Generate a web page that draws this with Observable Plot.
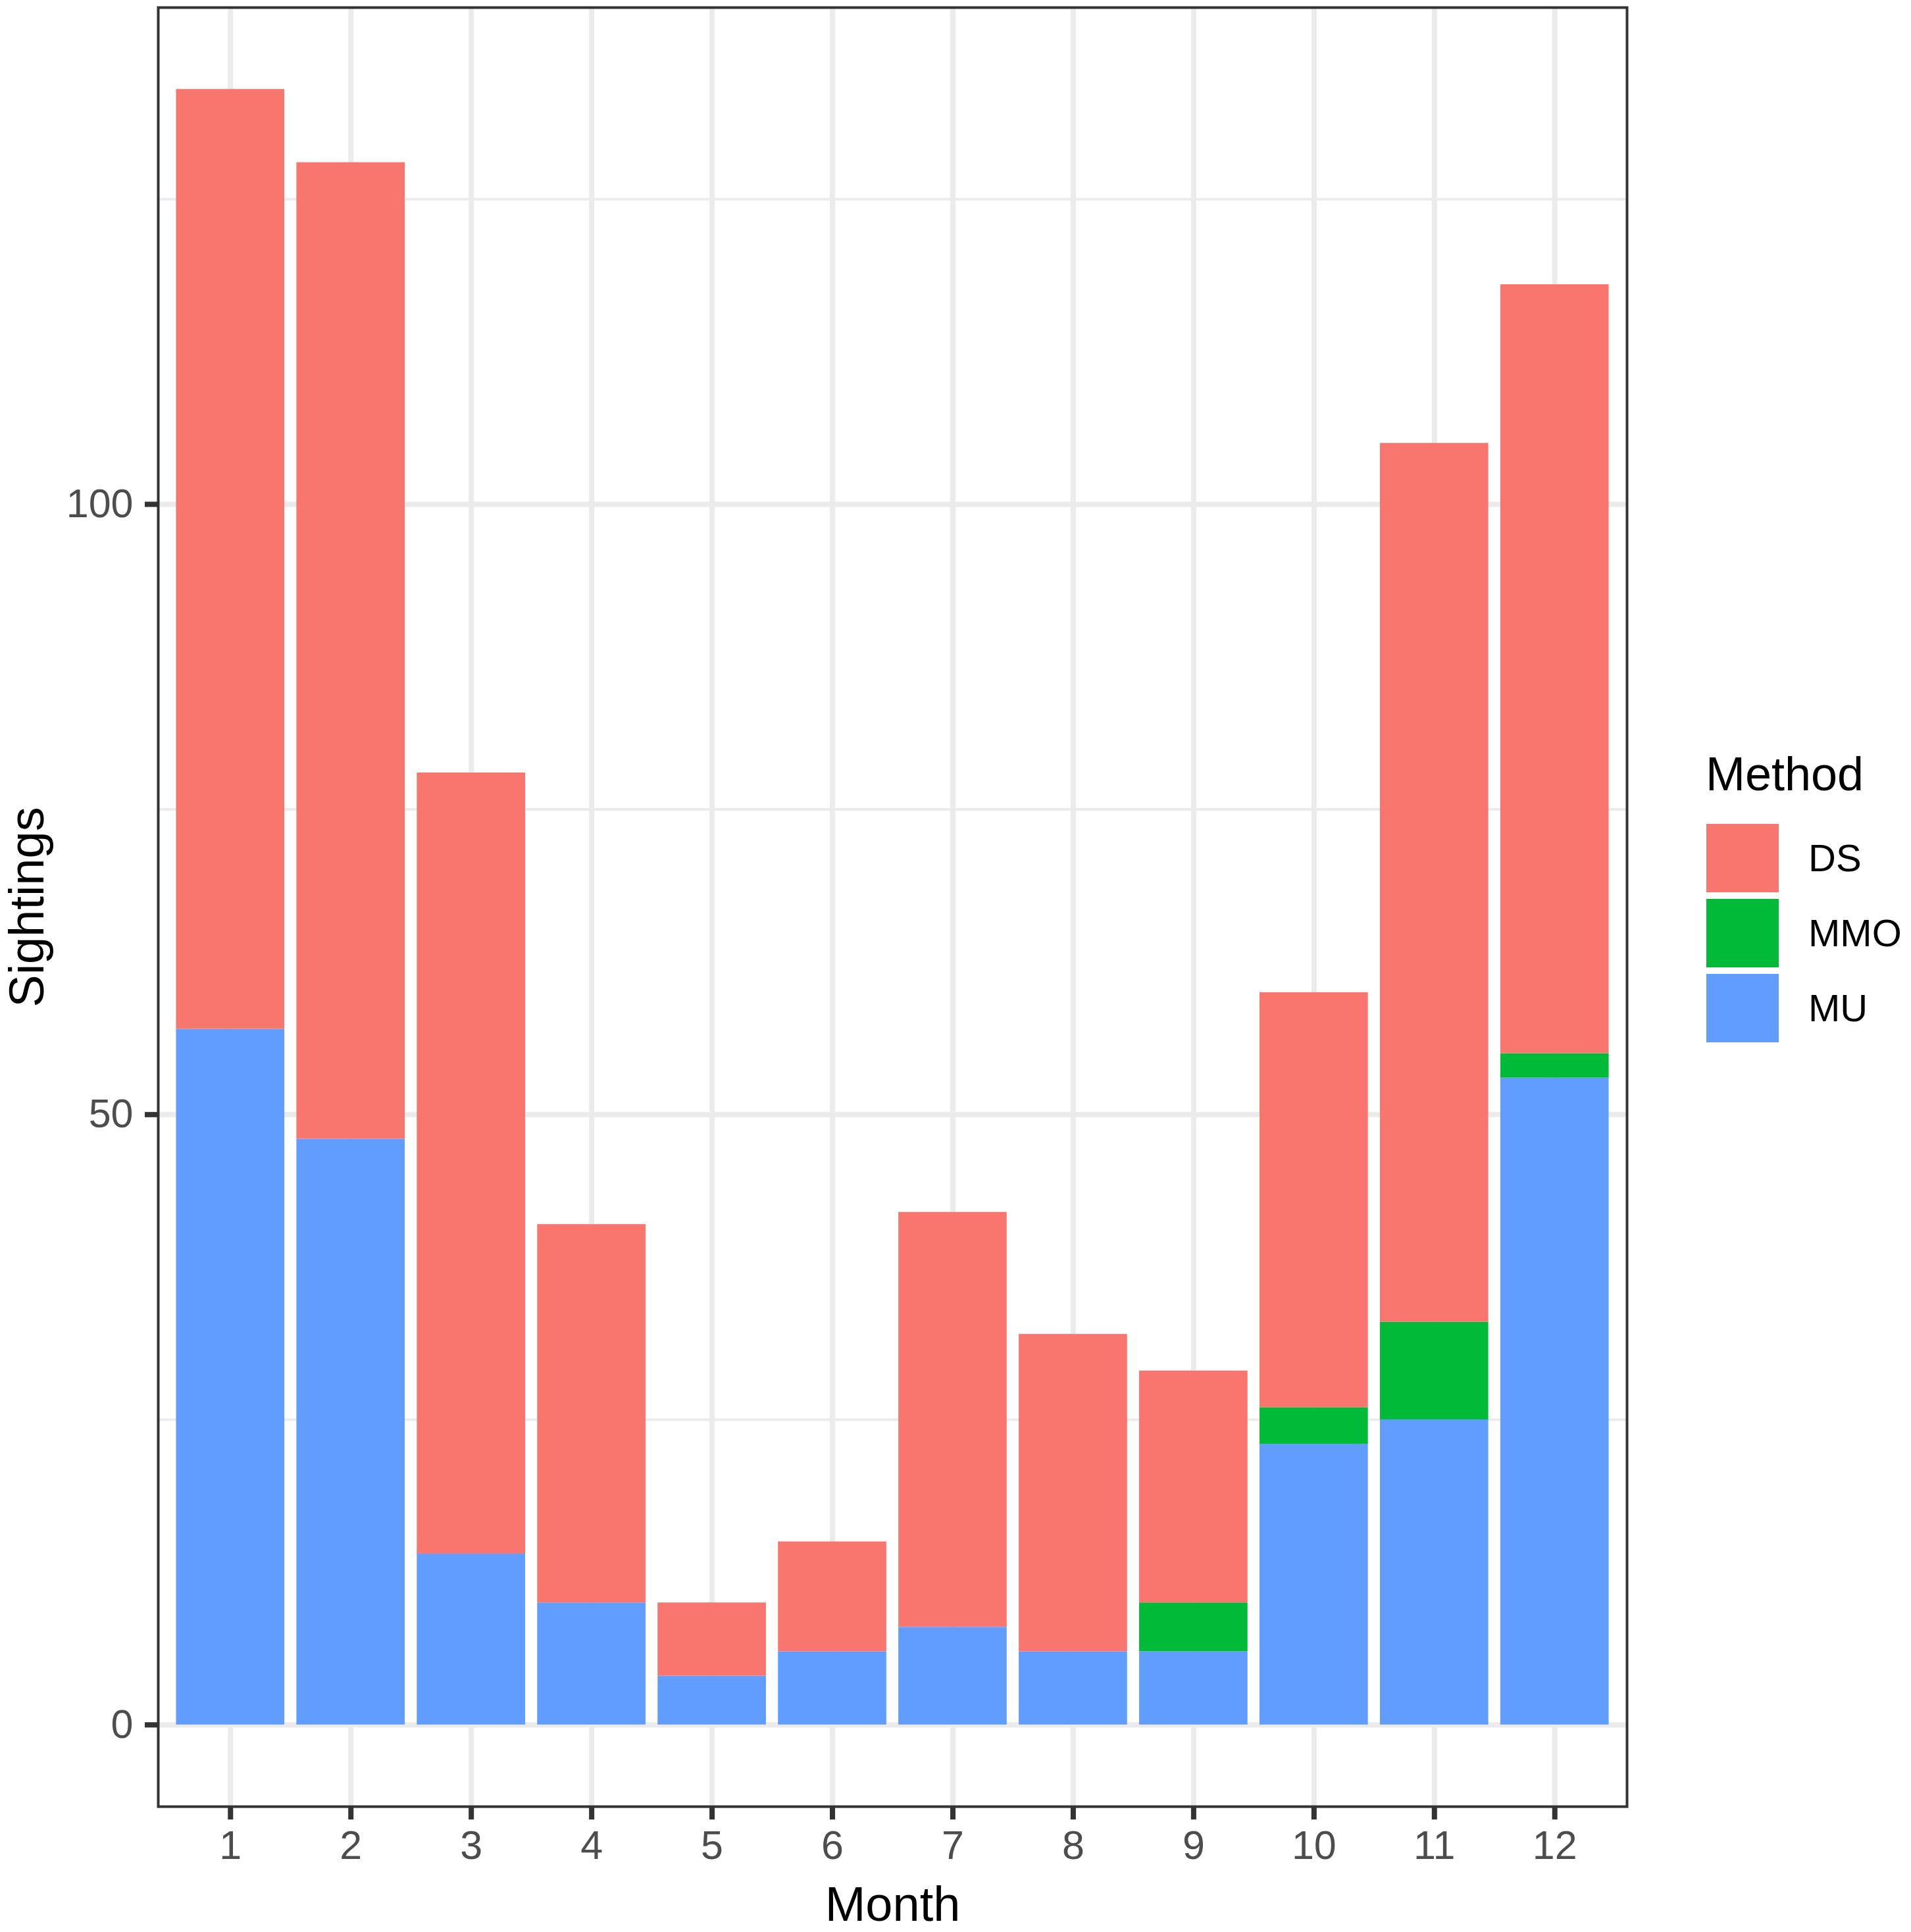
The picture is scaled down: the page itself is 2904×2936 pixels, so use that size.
<!DOCTYPE html>
<html>
<head>
<meta charset="utf-8">
<script src="https://cdn.jsdelivr.net/npm/d3@7"></script>
<script src="https://cdn.jsdelivr.net/npm/@observablehq/plot@0.6"></script>
<style>
  html, body { margin: 0; padding: 0; background: #fff; }
  #wrap { position: relative; width: 2904px; height: 2936px; font-family: "Liberation Sans", Arial, sans-serif; }
  #legend { position: absolute; left: 2592px; top: 1140px; }
  .lg-title { position: absolute; left: 0; top: 0; font-size: 72px; color: #000; white-space: nowrap; line-height: 72px; }
  .lg-key { position: absolute; left: 1px; width: 110px; height: 104px; }
  .lg-label { position: absolute; left: 156px; font-size: 58px; color: #000; white-space: nowrap; line-height: 104px; height: 104px; }
</style>
</head>
<body>
<div id="wrap"><div id="chart"></div><div id="legend"></div></div>
<script>
const months = [1, 2, 3, 4, 5, 6, 7, 8, 9, 10, 11, 12];
const methods = ["DS", "MMO", "MU"];
const colors = ["#F8766D", "#00BA38", "#619CFF"];
const MU  = [57, 48, 14, 10, 4, 6, 8, 6, 6, 23, 25, 53];
const MMO = [0, 0, 0, 0, 0, 0, 0, 0, 4, 3, 8, 2];
const DS  = [77, 80, 64, 31, 6, 9, 34, 26, 19, 34, 72, 63];
const yTicks = [0, 50, 100];
const yMinor = [25, 75, 125];

// stacking order: MU bottom, MMO middle, DS top
const rows = [];
const series = { MU, MMO, DS };
for (const m of ["MU", "MMO", "DS"]) {
  months.forEach((mo, i) => {
    if (series[m][i] > 0) rows.push({ Month: mo, Method: m, Sightings: series[m][i] });
  });
}
const totals = months.map((_, i) => MU[i] + MMO[i] + DS[i]);
const maxT = d3.max(totals);
const pad = maxT * 0.05;

const chart = Plot.plot({
  width: 2904,
  height: 2936,
  marginLeft: 240,
  marginRight: 432,
  marginTop: 11,
  marginBottom: 191,
  style: { fontFamily: "Liberation Sans, Arial, sans-serif", background: "#fff" },
  x: { type: "band", domain: months, paddingInner: 0.1, paddingOuter: 0.15, round: false },
  y: { domain: [-pad, maxT + pad] },
  color: { domain: methods, range: colors },
  marks: [
    Plot.ruleY(yMinor, { stroke: "#EBEBEB", strokeWidth: 4 }),
    Plot.ruleY(yTicks, { stroke: "#EBEBEB", strokeWidth: 8 }),
    Plot.gridX(months, { stroke: "#EBEBEB", strokeOpacity: 1, strokeWidth: 8 }),
    Plot.barY(rows, { x: "Month", y: "Sightings", fill: "Method", order: null }),
    Plot.axisY(yTicks, { tickSize: 20, tickPadding: 18, fontSize: 61, color: "#4D4D4D", stroke: "#333", strokeWidth: 8, label: null }),
    Plot.axisX(months, { tickSize: 20, tickPadding: 16, fontSize: 61, color: "#4D4D4D", stroke: "#333", strokeWidth: 8, label: null }),
    Plot.frame({ stroke: "#333", strokeWidth: 4 }),
    Plot.text(["Sightings"], { frameAnchor: "left", dx: -198, rotate: -90, textAnchor: "middle", lineAnchor: "middle", fontSize: 74, fill: "#000" }),
    Plot.text(["Month"], { frameAnchor: "bottom", dy: 150, textAnchor: "middle", lineAnchor: "middle", fontSize: 74, fill: "#000" })
  ]
});
document.getElementById("chart").appendChild(chart);

// legend
const lg = document.getElementById("legend");
const t = document.createElement("div");
t.className = "lg-title";
t.textContent = "Method";
lg.appendChild(t);
methods.forEach((m, i) => {
  const top = 112 + i * 114;
  const k = document.createElement("div");
  k.className = "lg-key";
  k.style.top = top + "px";
  k.style.background = colors[i];
  lg.appendChild(k);
  const l = document.createElement("div");
  l.className = "lg-label";
  l.style.top = top + "px";
  l.textContent = m;
  lg.appendChild(l);
});
</script>
</body>
</html>
